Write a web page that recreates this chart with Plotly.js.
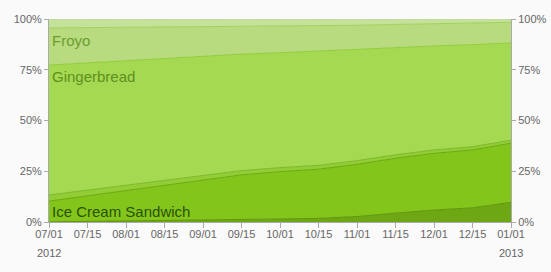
<!DOCTYPE html>
<html>
<head>
<meta charset="utf-8">
<script src="https://cdn.plot.ly/plotly-3.0.1.min.js"></script>
<style>html,body{margin:0;padding:0;background:#fafafa;}#chart{width:551px;height:272px;}</style>
</head>
<body>
<div id="chart"></div>
<script>
var dates = ["07/01","07/15","08/01","08/15","09/01","09/15","10/01","10/15","11/01","11/15","12/01","12/15","01/01"];
var jellyBean = [0.1,0.3,0.5,0.6,0.8,1.0,1.5,1.8,2.7,4.4,5.9,7.0,9.7];
var iceCreamSandwich = [10.2,12.6,15.0,17.5,19.9,22.2,23.3,24.2,25.7,27.0,27.9,28.5,29.1];
var honeycomb = [3.0,2.8,2.6,2.4,2.2,2.1,2.0,1.9,1.8,1.7,1.7,1.6,1.5];
var gingerbread = [64.0,62.7,61.3,59.9,58.6,57.4,56.6,56.4,54.9,53.0,51.2,50.3,47.9];
var froyo = [18.3,17.3,16.5,15.6,14.7,13.7,13.2,12.4,11.8,11.2,10.9,10.6,10.2];
var older = [4.4,4.3,4.1,4.0,3.8,3.6,3.4,3.3,3.1,2.7,2.4,2.0,1.6];
var yTicks = [0,25,50,75,100];
var yTickText = ["0%","25%","50%","75%","100%"];
var years = [["07/01","2012"],["01/01","2013"]];

function layer(name, y, fill, line) {
  return {x: dates, y: y, name: name, type: "scatter", mode: "lines", stackgroup: "one",
    fillcolor: fill, line: {color: line, width: 1, shape: "linear"}, hoverinfo: "skip"};
}
var traces = [
  layer("Jelly Bean", jellyBean, "#6da814", "#5e960c"),
  layer("Ice Cream Sandwich", iceCreamSandwich, "#84c51b", "#6aa812"),
  layer("Honeycomb", honeycomb, "#93cd35", "#7bb82a"),
  layer("Gingerbread", gingerbread, "#a5d951", "#92cc3c"),
  layer("Froyo", froyo, "#b7db7e", "#a3d05e"),
  layer("Older", older, "#c4e29a", "#b4d985"),
  {x: dates, y: yTicks.map(function(){return null;}), yaxis: "y2", type: "scatter", mode: "lines", showlegend: false, hoverinfo: "skip"}
];
var tickFont = {family: "Liberation Sans, Arial, sans-serif", size: 11, color: "#666"};
var annotations = [
  {text: "Froyo", xref: "paper", x: 0, xanchor: "left", xshift: 1, yref: "y", y: 89.5, yanchor: "middle", showarrow: false,
   font: {family: "Liberation Sans, Arial, sans-serif", size: 15, color: "#6e9b30"}},
  {text: "Gingerbread", xref: "paper", x: 0, xanchor: "left", xshift: 1, yref: "y", y: 71.5, yanchor: "middle", showarrow: false,
   font: {family: "Liberation Sans, Arial, sans-serif", size: 15, color: "#5f8f1e"}},
  {text: "Ice Cream Sandwich", xref: "paper", x: 0, xanchor: "left", xshift: 1, yref: "y", y: 5.0, yanchor: "middle", showarrow: false,
   font: {family: "Liberation Sans, Arial, sans-serif", size: 15, color: "#2a5206"}}
];
years.forEach(function(p){
  annotations.push({text: p[1], xref: "x", x: p[0], xanchor: "center", yref: "paper", y: 0, yshift: -31, yanchor: "middle",
    showarrow: false, font: tickFont});
});
var layout = {
  width: 551, height: 272,
  margin: {l: 49, r: 40, t: 19, b: 50, pad: 0},
  paper_bgcolor: "#fafafa", plot_bgcolor: "#fafafa",
  showlegend: false,
  xaxis: {type: "category", range: [0, dates.length - 1], showgrid: false, zeroline: false,
    ticks: "outside", ticklen: 5, tickcolor: "#aaa", showline: true, linecolor: "#aaa", linewidth: 1,
    ticklabelstandoff: -3, tickfont: tickFont, fixedrange: true},
  yaxis: {range: [0, 100], tickvals: yTicks, ticktext: yTickText, showgrid: false, zeroline: false,
    ticks: "outside", ticklen: 4, tickcolor: "#aaa", showline: true, linecolor: "#aaa", linewidth: 1,
    tickfont: tickFont, fixedrange: true},
  yaxis2: {range: [0, 100], tickvals: yTicks, ticktext: yTickText, overlaying: "y", side: "right", showgrid: false, zeroline: false,
    ticks: "outside", ticklen: 4, tickcolor: "#aaa", showline: true, linecolor: "#aaa", linewidth: 1,
    tickfont: tickFont, fixedrange: true},
  shapes: [{type: "line", xref: "paper", x0: 0, x1: 1, yref: "y", y0: 100, y1: 100,
    line: {color: "#d0d0d0", width: 1, dash: "4px,3px"}}],
  annotations: annotations
};
Plotly.newPlot("chart", traces, layout, {staticPlot: true, displayModeBar: false});
</script>
</body>
</html>
